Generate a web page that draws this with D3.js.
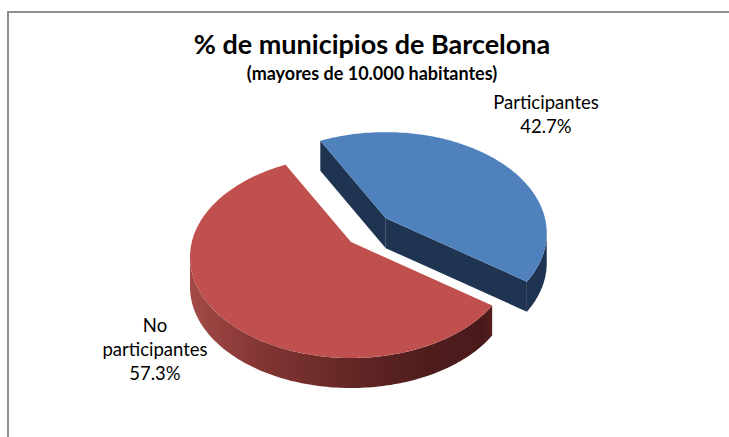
<!DOCTYPE html>
<html>
<head>
<meta charset="utf-8">
<script src="https://cdn.jsdelivr.net/npm/d3@7"></script>
<style>
  body { margin: 0; background: #fff; }
  text { font-family: Lato, "Open Sans", sans-serif; fill: #000; }
</style>
</head>
<body>
<svg id="chart" width="729" height="437"></svg>
<script>
// chart values
const categories = ["Participantes", "No participantes"];
const values = [42.7, 57.3];
const labelLines = [["Participantes"], ["No", "participantes"]];
const topColors = ["#4f81bd", "#c0504d"];
const title = "% de municipios de Barcelona";
const subtitle = "(mayores de 10.000 habitantes)";

const svg = d3.select("#chart");

// frame of the chart area (cut at right and bottom)
svg.append("path")
  .attr("d", "M8,437V12H729")
  .attr("fill", "none")
  .attr("stroke", "#8f8f8f")
  .attr("stroke-width", 2);

svg.append("text")
  .attr("x", 372).attr("y", 54)
  .attr("text-anchor", "middle")
  .attr("font-size", 27).attr("font-weight", "bold")
  .text(title);
svg.append("text")
  .attr("x", 372).attr("y", 80)
  .attr("text-anchor", "middle")
  .attr("font-size", 18).attr("font-weight", "bold")
  .text(subtitle);

// 3d pie geometry
const cx = 351, cy = 257, rx = 161, ry = 101;
const apexDy = -15, depth = 30, warp = 0.15, explode = 0.32;

const pie = d3.pie().sort(null).startAngle(-28 * Math.PI / 180);
const arcs = pie(values);

// d3 angle (clockwise from 12 o'clock) -> ellipse parameter with a bit of perspective
function param(a) {
  const t = a - Math.PI / 2;
  return t - warp * Math.cos(t);
}
function pt(t, off, dy) {
  return [cx + off[0] + rx * Math.cos(t), cy + off[1] + ry * Math.sin(t) + (dy || 0)];
}
function samples(t0, t1) {
  const n = Math.max(2, Math.ceil(Math.abs(t1 - t0) / 0.02));
  return d3.range(n + 1).map(i => t0 + (t1 - t0) * i / n);
}
const line = d3.line();

const redSide = svg.append("defs").append("linearGradient")
  .attr("id", "redSide")
  .attr("gradientUnits", "userSpaceOnUse")
  .attr("x1", 190).attr("x2", 500).attr("y1", 0).attr("y2", 0);
[[0, "#a34a47"], [0.25, "#803432"], [0.5, "#652826"], [0.75, "#501d1d"], [0.95, "#4a1a1a"], [1, "#5e2424"]]
  .forEach(s => redSide.append("stop").attr("offset", s[0]).attr("stop-color", s[1]));
const sideFills = ["#1f3451", "url(#redSide)"];

const pieG = svg.append("g");

arcs.forEach(function(d, i) {
  const t0 = param(d.startAngle), t1 = param(d.endAngle);
  let off = [0, 0];
  if (i === 0) {
    const m = param((d.startAngle + d.endAngle) / 2);
    off = [explode * rx * Math.cos(m), explode * ry * Math.sin(m)];
  }
  const apex = [cx + off[0], cy + off[1] + apexDy];
  const apexB = [apex[0], apex[1] + depth];
  const g = pieG.append("g").attr("class", "slice " + categories[i]);

  // radial walls that face the viewer
  [[t0, t0 - Math.PI / 2], [t1, t1 + Math.PI / 2]].forEach(function(e) {
    if (Math.sin(e[1]) > 0) {
      g.append("path")
        .attr("d", line([apex, pt(e[0], off), pt(e[0], off, depth), apexB]) + "Z")
        .attr("fill", sideFills[i]);
    }
  });

  // outer wall, front half only
  const s = Math.max(t0, 0), e = Math.min(t1, Math.PI);
  if (e > s) {
    const top = samples(s, e).map(t => pt(t, off));
    const bot = samples(e, s).map(t => pt(t, off, depth));
    g.append("path")
      .attr("d", line(top.concat(bot)) + "Z")
      .attr("fill", sideFills[i]);
  }

  // top face
  g.append("path")
    .attr("d", line([apex].concat(samples(t0, t1).map(t => pt(t, off)))) + "Z")
    .attr("fill", topColors[i]);
});

// data labels
const labelPos = [[546, 109], [155, 332]];
const fmt = d3.format(".1f");
arcs.forEach(function(d, i) {
  const lines = labelLines[i].concat([fmt(values[i]) + "%"]);
  const t = svg.append("text")
    .attr("text-anchor", "middle")
    .attr("font-size", 18.5);
  lines.forEach(function(s, j) {
    t.append("tspan")
      .attr("x", labelPos[i][0])
      .attr("y", labelPos[i][1] + j * 24)
      .text(s);
  });
});
</script>
</body>
</html>
